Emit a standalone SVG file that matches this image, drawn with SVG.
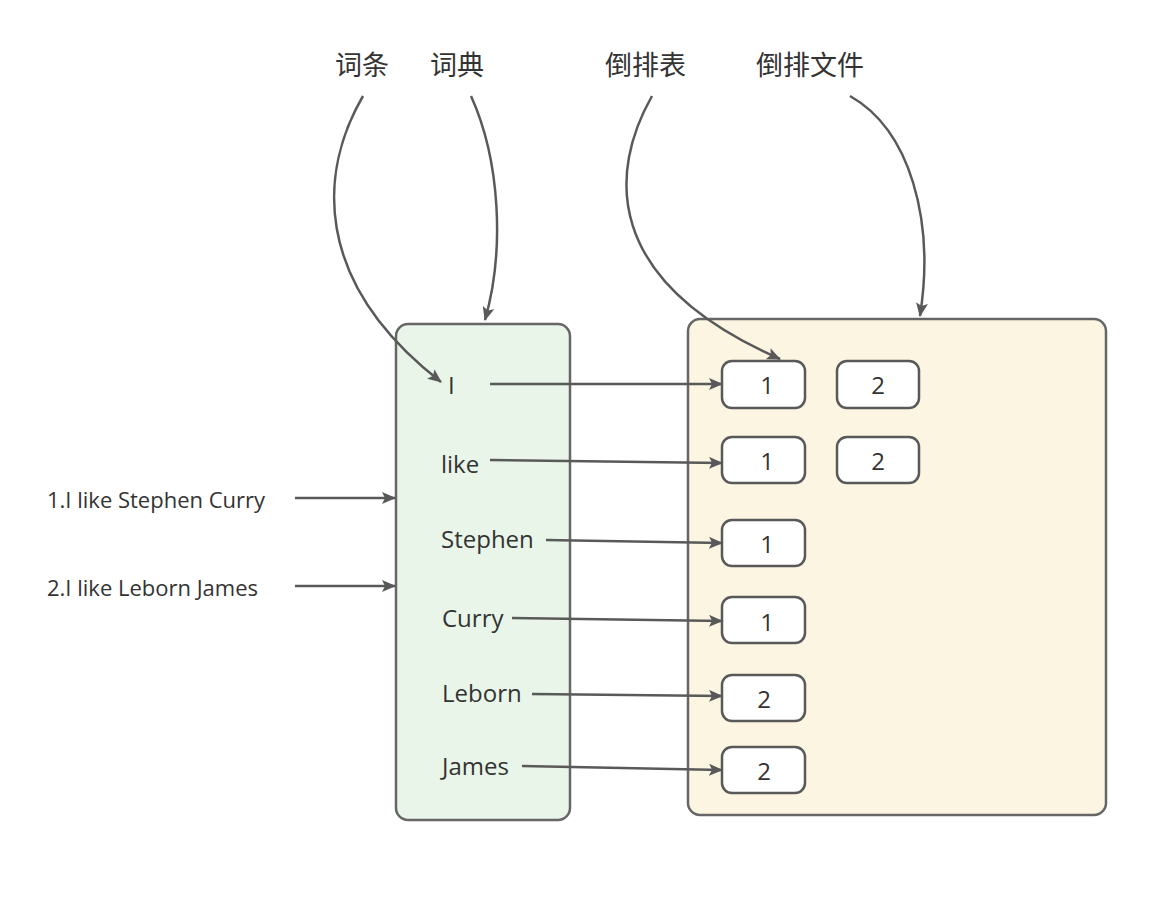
<svg xmlns="http://www.w3.org/2000/svg" width="1174" height="921" viewBox="0 0 1174 921">
<style>
text{font-family:"Open Sans","Noto Sans","Noto Sans CJK SC",sans-serif;fill:#333}
.w{font-size:24px}
.lab{font-size:27px;font-family:"Noto Sans CJK SC",sans-serif}
.d{font-size:24px;text-anchor:middle}
.s{font-size:22px}
.box{fill:#fff;stroke:#595959;stroke-width:2.5}
.c{fill:none;stroke:#595959;stroke-width:2.5;marker-end:url(#ah)}
</style>
<defs>
<marker id="ah" viewBox="0 0 14 12" refX="13" refY="6" markerWidth="14" markerHeight="12" markerUnits="userSpaceOnUse" orient="auto">
<path d="M0,0 L14,6 L0,12 L3,6 Z" fill="#595959"/>
</marker>
</defs>
<rect width="1174" height="921" fill="#fff"/>
<g id="dict">
<rect x="396" y="324" width="174" height="496" rx="12" fill="#e8f5e8" stroke="#666" stroke-width="2.5"/>
<text class="w" x="448" y="394">I</text>
<text class="w" x="441" y="473">like</text>
<text class="w" x="441" y="548">Stephen</text>
<text class="w" x="442" y="627">Curry</text>
<text class="w" x="442" y="702">Leborn</text>
<text class="w" x="442" y="775">James</text>
</g>
<g id="invfile">
<rect x="688" y="319" width="418" height="496" rx="12" fill="#fbf5e2" stroke="#666" stroke-width="2.5"/>
</g>
<g id="posting">
<rect class="box" x="722" y="361" width="83" height="47" rx="10"/><text class="d" x="767" y="394">1</text>
<rect class="box" x="837" y="361" width="82" height="47" rx="10"/><text class="d" x="878" y="394">2</text>
<rect class="box" x="722" y="437" width="83" height="46" rx="10"/><text class="d" x="767" y="470">1</text>
<rect class="box" x="837" y="437" width="82" height="46" rx="10"/><text class="d" x="878" y="470">2</text>
<rect class="box" x="722" y="520" width="83" height="46" rx="10"/><text class="d" x="767" y="553">1</text>
<rect class="box" x="722" y="597" width="83" height="46" rx="10"/><text class="d" x="767" y="631">1</text>
<rect class="box" x="722" y="675" width="83" height="46" rx="10"/><text class="d" x="764" y="708">2</text>
<rect class="box" x="722" y="747" width="83" height="46" rx="10"/><text class="d" x="764" y="780">2</text>
</g>
<g id="docs">
<text class="s" x="47" y="508">1.I like Stephen Curry</text>
<text class="s" x="47" y="596">2.I like Leborn James</text>
</g>
<g id="labels">
<text class="lab" x="335" y="75">词条</text>
<text class="lab" x="430" y="75">词典</text>
<text class="lab" x="605" y="75">倒排表</text>
<text class="lab" x="756" y="75">倒排文件</text>
</g>
<g id="connectors">
<path class="c" d="M490,384 L722,384"/>
<path class="c" d="M490,460 L722,463"/>
<path class="c" d="M546,540 L722,543"/>
<path class="c" d="M512,618 L722,621"/>
<path class="c" d="M532,694 L722,696"/>
<path class="c" d="M522,766 L722,770"/>
<path class="c" d="M295,498 L395,498"/>
<path class="c" d="M295,586 L395,586"/>
<path class="c" d="M363,96 C320,170 310,280 441,382"/>
<path class="c" d="M471,96 C500,160 505,250 485,320"/>
<path class="c" d="M652,96 C610,170 600,280 780,359"/>
<path class="c" d="M850,96 C910,130 935,220 920,316"/>
</g>
</svg>
